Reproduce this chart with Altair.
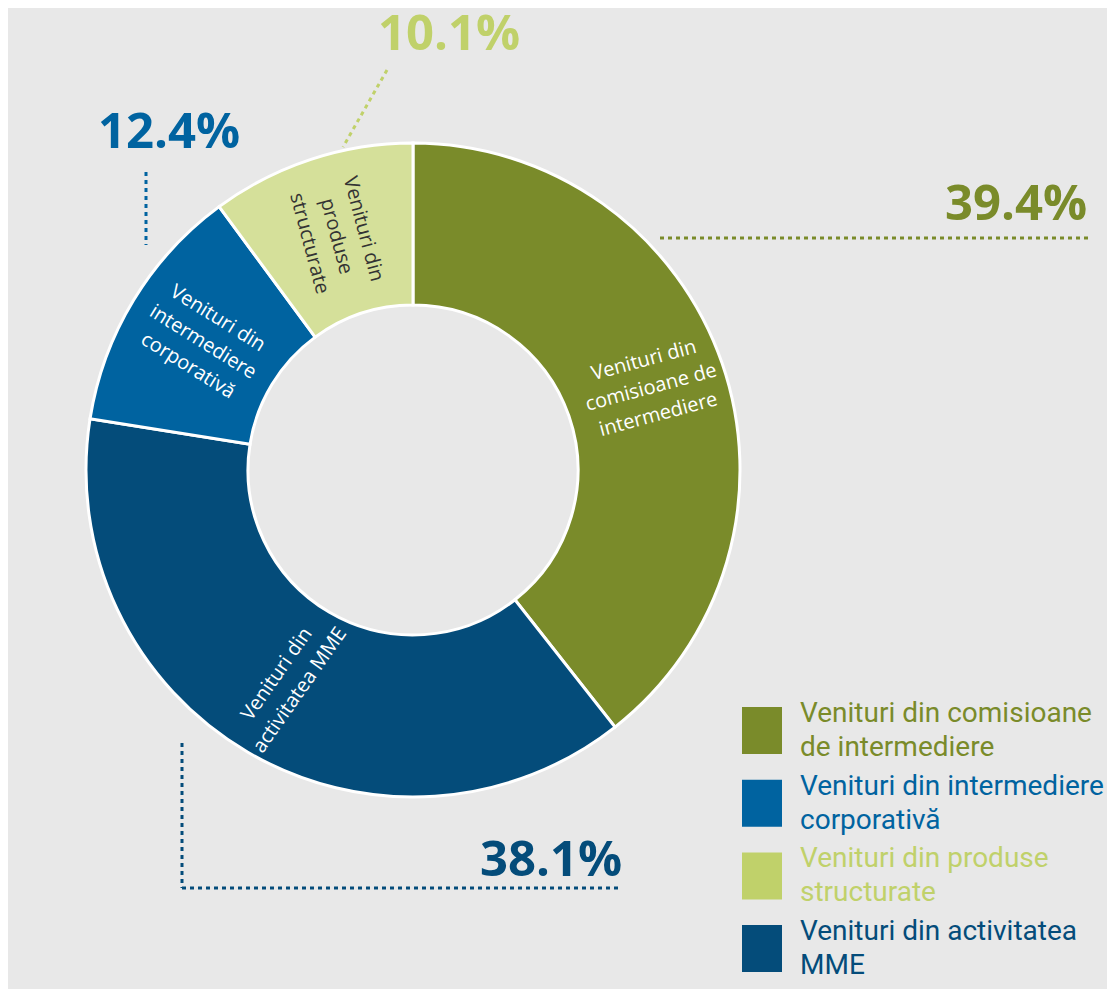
import altair as alt
import pandas as pd

# ---------------- data ----------------
categories = [
    "Venituri din comisioane de intermediere",
    "Venituri din activitatea MME",
    "Venituri din intermediere corporativă",
    "Venituri din produse structurate",
]
shares = [39.4, 38.1, 12.4, 10.1]
pct_labels = ["39.4%", "38.1%", "12.4%", "10.1%"]
slice_labels = [
    "Venituri din\ncomisioane de\nintermediere",
    "Venituri din\nactivitatea MME",
    "Venituri din\nintermediere\ncorporativă",
    "Venituri din\nproduse\nstructurate",
]
legend_order = [
    "Venituri din comisioane de intermediere",
    "Venituri din intermediere corporativă",
    "Venituri din produse structurate",
    "Venituri din activitatea MME",
]
legend_text = [
    "Venituri din comisioane\nde intermediere",
    "Venituri din intermediere\ncorporativă",
    "Venituri din produse\nstructurate",
    "Venituri din activitatea\nMME",
]

# ---------------- styles / layout ----------------
slice_colors = ["#7a8b2a", "#044c7a", "#0063a0", "#d5e09a"]
key_colors = {"Venituri din comisioane de intermediere": "#7a8b2a",
              "Venituri din activitatea MME": "#044c7a",
              "Venituri din intermediere corporativă": "#0063a0",
              "Venituri din produse structurate": "#c0d16a"}
label_ink = ["#ffffff", "#ffffff", "#ffffff", "#333333"]
label_rot = [345, 305, 32, 75]
label_radius = [252, 246, 246, 246]
LBL_LH = 28

W, H = 1099, 981
CX, CY = 405, 462
R_OUT, R_IN = 327, 165

# annotation anchors (pixel layout)
pct_x = [1008, 543, 161, 441]
pct_y = [212, 868, 140, 42]
leader_cat = [0, 1, 1, 2, 3]
leader_x = [652, 174, 174, 138, 379]
leader_y = [230, 735, 880, 164, 62]
leader_x2 = [1080, 174, 614, 138, 335]
leader_y2 = [230, 880, 880, 237, 139]

# legend layout
LEG_X, LEG_Y, LEG_STEP = 734, 699, 72.7
SW_W, SW_H, LBL_GAP, LBL_DY = 40, 47, 18, 7

pie_df = pd.DataFrame({
    "category": categories,
    "share": shares,
    "ord": list(range(len(categories))),
    "fill": slice_colors,
    "label": slice_labels,
    "nl": [s.count("\n") + 1 for s in slice_labels],
    "ink": label_ink,
    "rot": label_rot,
    "lr": label_radius,
})

pct_df = pd.DataFrame({
    "pct": pct_labels,
    "px": pct_x,
    "py": pct_y,
    "col": [key_colors[c] for c in categories],
})

lead_df = pd.DataFrame({
    "x": leader_x, "y": leader_y, "x2": leader_x2, "y2": leader_y2,
    "col": [key_colors[categories[i]] for i in leader_cat],
})

leg_df = pd.DataFrame({
    "text": legend_text,
    "col": [key_colors[c] for c in legend_order],
    "x": [LEG_X] * 4,
    "x2": [LEG_X + SW_W] * 4,
    "y": [LEG_Y + i * LEG_STEP for i in range(4)],
    "y2": [LEG_Y + i * LEG_STEP + SW_H for i in range(4)],
    "tx": [LEG_X + SW_W + LBL_GAP] * 4,
    "ty": [LEG_Y + i * LEG_STEP + LBL_DY for i in range(4)],
})

theta = alt.Theta("share:Q", stack=True)
order = alt.Order("ord:Q")

arcs = alt.Chart(pie_df).mark_arc(
    outerRadius=R_OUT, innerRadius=R_IN, stroke="white", strokeWidth=3
).encode(
    theta=theta, order=order,
    fill=alt.Fill("fill:N", scale=None),
    x=alt.value(CX), y=alt.value(CY),
)

# slice labels: centred on each slice's mid-angle (computed by Vega-Lite transforms);
# the anchor is moved up by half the text block, in the rotated frame
inner = alt.Chart(pie_df).transform_joinaggregate(
    total="sum(share)"
).transform_window(
    cum="sum(share)", sort=[alt.SortField("ord")], frame=[None, 0]
).transform_calculate(
    mid="(datum.cum - datum.share / 2) / datum.total * 2 * PI",
    half=f"(datum.nl - 1) / 2 * {LBL_LH}",
    ra="datum.rot * PI / 180",
).transform_calculate(
    lx=f"{CX} + datum.lr * sin(datum.mid) + datum.half * sin(datum.ra)",
    ly=f"{CY} - datum.lr * cos(datum.mid) - datum.half * cos(datum.ra)",
).mark_text(
    font="Open Sans", fontSize=20, lineBreak="\n", lineHeight=LBL_LH,
    align="center", baseline="middle"
).encode(
    x=alt.X("lx:Q", scale=None), y=alt.Y("ly:Q", scale=None),
    angle=alt.Angle("rot:Q", scale=None),
    fill=alt.Fill("ink:N", scale=None),
    text="label:N",
)

leaders = alt.Chart(lead_df).mark_rule(strokeWidth=3, strokeDash=[4, 4]).encode(
    x=alt.X("x:Q", scale=None), y=alt.Y("y:Q", scale=None),
    x2="x2:Q", y2="y2:Q",
    stroke=alt.Stroke("col:N", scale=None),
)

pcts = alt.Chart(pct_df).mark_text(
    font="Open Sans", fontWeight="bold", fontSize=49, align="center", baseline="alphabetic"
).encode(
    x=alt.X("px:Q", scale=None), y=alt.Y("py:Q", scale=None),
    text="pct:N",
    fill=alt.Fill("col:N", scale=None),
)

swatches = alt.Chart(leg_df).mark_rect().encode(
    x=alt.X("x:Q", scale=None), x2="x2:Q",
    y=alt.Y("y:Q", scale=None), y2="y2:Q",
    fill=alt.Fill("col:N", scale=None),
)

leg_text = alt.Chart(leg_df).mark_text(
    font="Roboto", fontSize=28, lineBreak="\n", lineHeight=34,
    align="left", baseline="middle"
).encode(
    x=alt.X("tx:Q", scale=None), y=alt.Y("ty:Q", scale=None),
    text="text:N",
    fill=alt.Fill("col:N", scale=None),
)

chart = alt.layer(arcs, inner, leaders, pcts, swatches, leg_text).properties(
    width=W, height=H, padding=0, autosize=alt.AutoSizeParams(type="none"),
    background="#e8e8e8",
).configure_view(stroke=None)

chart.save("out.html", embed_options={"renderer": "svg", "actions": False})
